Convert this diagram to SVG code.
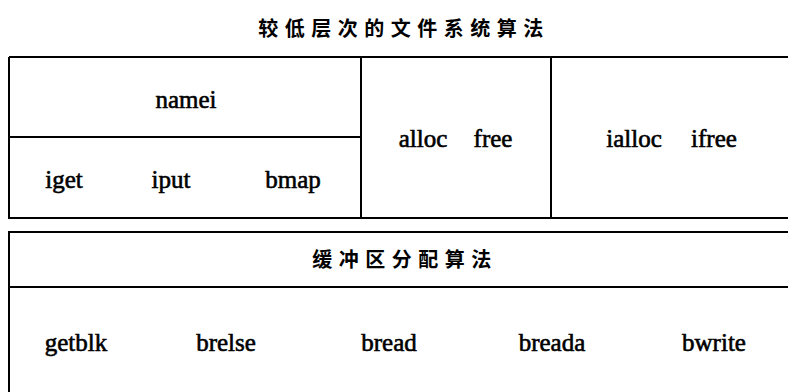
<svg xmlns="http://www.w3.org/2000/svg" width="788" height="392" viewBox="0 0 788 392">
<style>
.ln{stroke:#000;stroke-width:2;fill:none}
.t{font-family:"Liberation Serif","Times New Roman",serif;font-size:25px;fill:#000;stroke:#000;stroke-width:0.6;text-anchor:middle}
.c{font-family:"Noto Sans CJK SC","Noto Sans",sans-serif;font-size:20px;font-weight:bold;fill:#000;text-anchor:middle;letter-spacing:6.5px}
</style>
<rect width="788" height="392" fill="#fff"/>
<text class="c" x="404" y="36">较低层次的文件系统算法</text>
<g id="frame">
<line class="ln" x1="9" y1="57" x2="788" y2="57" stroke-width="3"/>
<line class="ln" x1="9" y1="57" x2="9" y2="219"/>
<line class="ln" x1="9" y1="218" x2="788" y2="218"/>
<line class="ln" x1="9" y1="232" x2="788" y2="232"/>
<line class="ln" x1="9" y1="287" x2="788" y2="287"/>
<line class="ln" x1="9" y1="231" x2="9" y2="392"/>
</g>
<g id="namei">
<line class="ln" x1="9" y1="137" x2="360" y2="137"/>
<text class="t" x="186" y="108">namei</text>
</g>
<g id="inode-ops">
<text class="t" x="64" y="188">iget</text>
<text class="t" x="171" y="188">iput</text>
<text class="t" x="293" y="188">bmap</text>
</g>
<g id="block-alloc">
<line class="ln" x1="361" y1="57" x2="361" y2="218"/>
<text class="t" x="423" y="147">alloc</text>
<text class="t" x="493" y="147">free</text>
</g>
<g id="inode-alloc">
<line class="ln" x1="551" y1="57" x2="551" y2="218"/>
<text class="t" x="634" y="147">ialloc</text>
<text class="t" x="714" y="147">ifree</text>
</g>
<g id="buffer">
<text class="c" x="405" y="267">缓冲区分配算法</text>
<text class="t" x="76" y="351">getblk</text>
<text class="t" x="226" y="351">brelse</text>
<text class="t" x="389" y="351">bread</text>
<text class="t" x="552" y="351">breada</text>
<text class="t" x="714" y="351">bwrite</text>
</g>
</svg>
